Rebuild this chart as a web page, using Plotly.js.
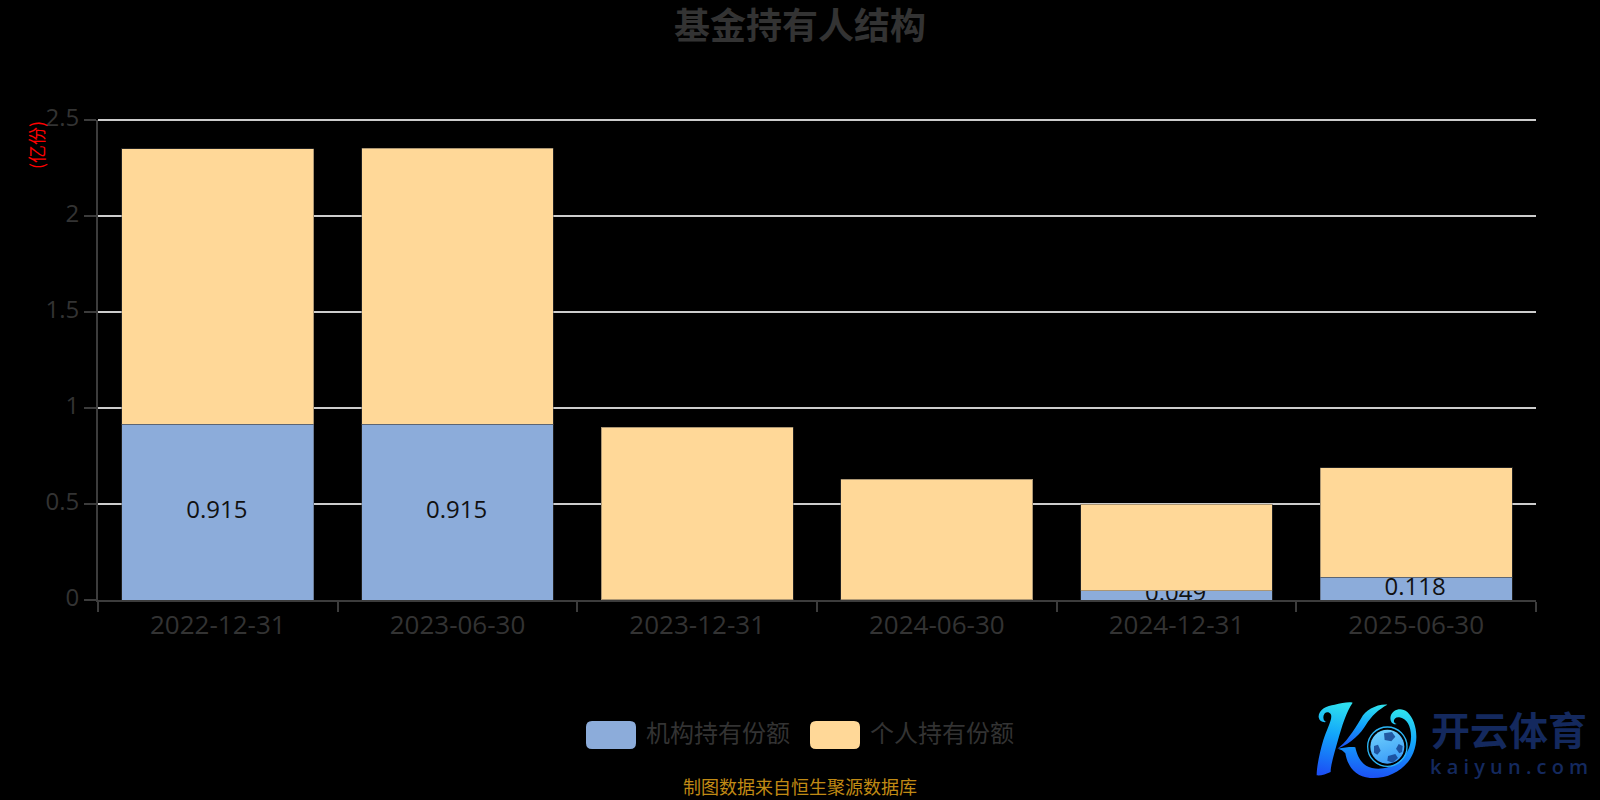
<!DOCTYPE html>
<html>
<head>
<meta charset="utf-8">
<script src="https://cdn.plot.ly/plotly-3.0.1.min.js"></script>
<style>html,body{margin:0;padding:0;background:#000;overflow:hidden}#chart{width:1600px;height:800px}</style>
</head>
<body>
<div id="chart"></div>
<script>
const categories = ['2022-12-31','2023-06-30','2023-12-31','2024-06-30','2024-12-31','2025-06-30'];
const institutional = [0.915, 0.915, 0.001, 0.001, 0.049, 0.118];
const individual = [1.435, 1.438, 0.899, 0.629, 0.451, 0.570];
const seriesNames = ['机构持有份额', '个人持有份额'];
const seriesColors = ['#8cacda', '#ffd898'];
const yTicks = [0, 0.5, 1, 1.5, 2, 2.5];
const titleText = '基金持有人结构';
const unitText = '(亿份)';
const sourceText = '制图数据来自恒生聚源数据库';

const W = 1600, H = 800, L = 98, R = 1536, T = 120, B = 600;
const px = x => (x - L) / (R - L);
const py = y => (B - y) / (B - T);
const SANS = '"Open Sans","Noto Sans CJK SC",sans-serif';
const CJK = '"Noto Sans CJK SC","Open Sans",sans-serif';
const COMPACT = '"Liberation Sans","Noto Sans CJK SC",sans-serif';

const logoSvg = `<svg xmlns="http://www.w3.org/2000/svg" viewBox="0 0 390 300" width="390" height="300">
<defs>
<linearGradient id="g" x1="0.5" y1="0" x2="0.4" y2="1"><stop offset="0" stop-color="#2ee0ee"/><stop offset="0.45" stop-color="#12a4fb"/><stop offset="1" stop-color="#1c50f5"/></linearGradient>
<linearGradient id="b" x1="0.3" y1="0" x2="0.6" y2="1"><stop offset="0" stop-color="#6fd0fc"/><stop offset="1" stop-color="#3a9cf8"/></linearGradient>
</defs>
<path fill="url(#g)" d="M56 82C54 60 80 46 104 44C124 40 146 34 158 38C138 66 126 110 114 150C104 186 92 224 92 246C78 252 62 258 50 256C50 232 58 190 70 150C80 118 100 84 92 72C84 62 70 68 70 82C70 92 76 96 80 96C68 98 58 94 56 82Z"/>
<path fill="url(#g)" d="M112 176C136 160 160 124 184 84C196 62 228 42 262 44C236 58 214 78 198 104C184 128 154 160 112 176Z"/>
<path fill="url(#g)" d="M114 176C136 172 156 170 166 172C172 200 184 226 216 234C262 244 316 216 330 164C340 124 326 86 298 82C280 80 276 100 290 102C280 106 268 96 272 78C278 58 304 50 322 66C348 90 358 144 340 188C320 238 266 268 210 264C164 260 142 226 136 190C130 182 122 178 114 176Z"/>
<circle cx="262" cy="170" r="59" fill="none" stroke="#2bb5f5" stroke-width="4"/>
<circle cx="262" cy="170" r="51" fill="url(#b)"/>
<g fill="#123e8c"><path d="M252 130L276 126L286 140L274 154L254 150Z" fill-opacity="0.8"/><path d="M222 168L234 164L242 182L232 194L222 188Z" fill-opacity="0.8"/><path d="M264 198L286 192L294 204L278 218L262 212Z" fill-opacity="0.8"/><path d="M296 162L308 168L306 186L298 190L288 176Z" fill-opacity="0.8"/></g>
</svg>`;

const traces = [
  {
    type: 'bar', name: seriesNames[0], x: categories, y: institutional,
    marker: {color: seriesColors[0], line: {color: 'rgba(70,70,70,0.45)', width: 1}},
    text: institutional.map(String), textposition: 'inside', insidetextanchor: 'middle',
    constraintext: 'none', textangle: 0,
    textfont: {family: SANS, size: 24, color: '#111'}, cliponaxis: true, hoverinfo: 'x+y+name'
  },
  {
    type: 'bar', name: seriesNames[1], x: categories, y: individual,
    marker: {color: seriesColors[1], line: {color: 'rgba(70,70,70,0.45)', width: 1}},
    hoverinfo: 'x+y+name'
  }
];

const swatch = (x0, color) => {
  const x1 = x0 + 50, y0 = 721, y1 = 749, r = 6;
  const X = v => px(v), Y = v => py(v);
  return {
    type: 'path', xref: 'paper', yref: 'paper', fillcolor: color, line: {width: 0},
    path: `M${X(x0 + r)},${Y(y0)} L${X(x1 - r)},${Y(y0)} Q${X(x1)},${Y(y0)} ${X(x1)},${Y(y0 + r)} L${X(x1)},${Y(y1 - r)} Q${X(x1)},${Y(y1)} ${X(x1 - r)},${Y(y1)} L${X(x0 + r)},${Y(y1)} Q${X(x0)},${Y(y1)} ${X(x0)},${Y(y1 - r)} L${X(x0)},${Y(y0 + r)} Q${X(x0)},${Y(y0)} ${X(x0 + r)},${Y(y0)} Z`
  };
};

const note = (text, x, y, size, color, extra) => Object.assign({
  text, xref: 'paper', yref: 'paper', x: px(x), y: py(y), showarrow: false,
  xanchor: 'center', yanchor: 'middle', font: {family: CJK, size, color}
}, extra || {});

// The 2.5 gridline lies on the plot's top edge, where Plotly drops the axis grid.
const topGrid = {
  type: 'line', xref: 'paper', yref: 'paper', x0: 0, x1: 1, y0: 1, y1: 1,
  line: {color: '#ccc', width: 2}, layer: 'below'
};

const layout = {
  width: W, height: H,
  margin: {l: L, r: W - R, t: T, b: H - B, pad: 0},
  paper_bgcolor: '#000', plot_bgcolor: '#000',
  barmode: 'stack', bargap: 0.2, showlegend: false,
  xaxis: {
    type: 'category', range: [-0.5, 5.5], tickson: 'boundaries', ticks: 'outside', ticklen: 10, tickwidth: 2,
    tickcolor: '#3c3c3c', showline: true, linecolor: '#3c3c3c', linewidth: 2, showgrid: false, zeroline: false,
    tickfont: {family: SANS, size: 26, color: '#333'}, ticklabelstandoff: 1, automargin: false
  },
  yaxis: {
    range: [0, 2.5], tickvals: yTicks, ticktext: yTicks.map(String), ticks: 'outside', ticklen: 12, tickwidth: 2,
    tickcolor: '#3c3c3c', showline: true, linecolor: '#3c3c3c', linewidth: 2, gridcolor: '#ccc', gridwidth: 2,
    zeroline: false, tickfont: {family: SANS, size: 24, color: '#333'}, ticklabelshift: -2, automargin: false
  },
  shapes: [topGrid, swatch(586, seriesColors[0]), swatch(810, seriesColors[1])],
  annotations: [
    note(titleText, 800, 26, 36, '#333', {font: {family: COMPACT, size: 36, color: '#333', weight: 700}}),
    note(unitText, 36, 145, 18, '#f00', {textangle: -90}),
    note(seriesNames[0], 644, 731, 24, '#333', {xanchor: 'left'}),
    note(seriesNames[1], 868, 731, 24, '#333', {xanchor: 'left'}),
    note(sourceText, 800, 788, 18, '#c08a14', {font: {family: COMPACT, size: 18, color: '#c08a14'}}),
    note('开云体育', 1509, 728, 39, '#14295e', {font: {family: CJK, size: 39, color: '#14295e', weight: 700}}),
    note('k a i y u n . c o m', 1509, 766, 20, '#14295e', {font: {family: '"Open Sans",sans-serif', size: 20, color: '#14295e', weight: 600}})
  ],
  images: [{
    source: 'data:image/svg+xml;charset=utf-8,' + encodeURIComponent(logoSvg),
    xref: 'paper', yref: 'paper', x: px(1300), y: py(690),
    sizex: px(1430) - px(1300), sizey: py(690) - py(790),
    xanchor: 'left', yanchor: 'top', sizing: 'stretch', layer: 'above'
  }]
};

Plotly.newPlot('chart', traces, layout, {displayModeBar: false, responsive: false}).then(gd => {
  // The reference's value labels sit a little above and left of the true bar centre.
  gd.querySelectorAll('.bars .bartext').forEach(t => {
    t.setAttribute('transform', 'translate(-1,-3.5) ' + (t.getAttribute('transform') || ''));
  });
});
</script>
</body>
</html>
